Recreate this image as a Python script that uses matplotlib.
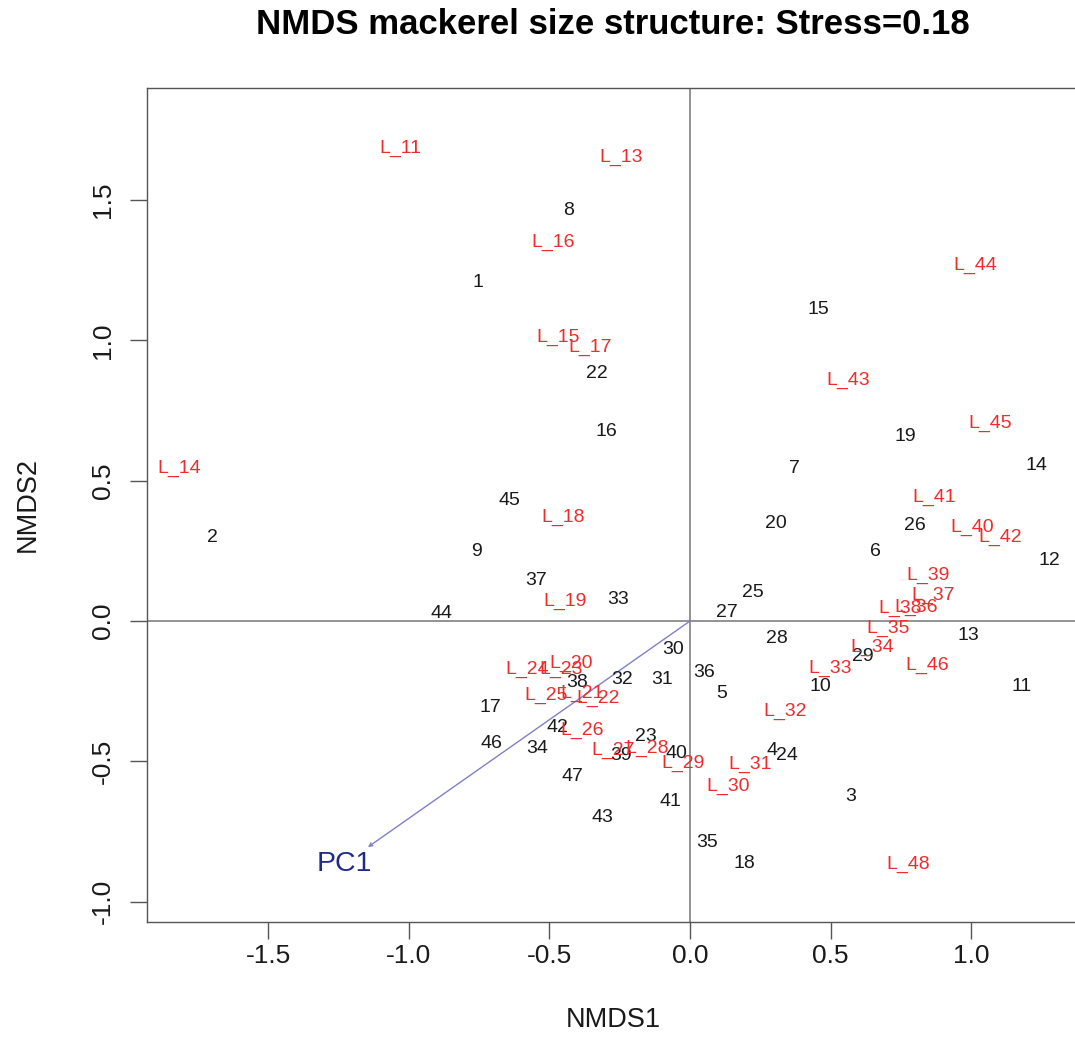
import matplotlib
matplotlib.use("Agg")
from matplotlib import pyplot as plt

# site scores (black numbers)
site_labels = ["1", "2", "3", "4", "5", "6", "7", "8", "9", "10",
               "11", "12", "13", "14", "15", "16", "17", "18", "19", "20",
               "22", "23", "24", "25", "26", "27", "28", "29", "30", "31",
               "32", "33", "34", "35", "36", "37", "38", "39", "40", "41",
               "42", "43", "44", "45", "46", "47"]
site_x = [-0.754, -1.698, 0.573, 0.292, 0.114, 0.658, 0.370, -0.431, -0.758, 0.463,
          1.181, 1.278, 0.989, 1.231, 0.456, -0.299, -0.712, 0.192, 0.765, 0.306,
          -0.331, -0.157, 0.345, 0.224, 0.801, 0.132, 0.310, 0.616, -0.060, -0.100,
          -0.242, -0.256, -0.544, 0.060, 0.050, -0.548, -0.402, -0.246, -0.050, -0.068,
          -0.470, -0.310, -0.883, -0.641, -0.705, -0.420]
site_y = [1.205, 0.296, -0.624, -0.460, -0.257, 0.246, 0.542, 1.465, 0.246, -0.235,
          -0.232, 0.214, -0.050, 0.553, 1.109, 0.674, -0.307, -0.866, 0.656, 0.349,
          0.884, -0.410, -0.478, 0.103, 0.342, 0.032, -0.061, -0.128, -0.103, -0.210,
          -0.210, 0.075, -0.453, -0.791, -0.185, 0.143, -0.221, -0.478, -0.471, -0.642,
          -0.378, -0.699, 0.025, 0.431, -0.435, -0.553]

# length class scores (red labels)
len_labels = ["L_11", "L_13", "L_14", "L_15", "L_16", "L_17", "L_18", "L_19", "L_20", "L_21",
              "L_22", "L_23", "L_24", "L_25", "L_26", "L_27", "L_28", "L_29", "L_30", "L_31",
              "L_32", "L_33", "L_34", "L_35", "L_36", "L_37", "L_38", "L_39", "L_40", "L_41",
              "L_42", "L_43", "L_44", "L_45", "L_46", "L_48"]
len_x = [-1.032, -0.246, -1.819, -0.470, -0.488, -0.356, -0.452, -0.445, -0.423, -0.384,
         -0.327, -0.459, -0.580, -0.512, -0.384, -0.274, -0.153, -0.025, 0.135, 0.214,
         0.338, 0.498, 0.648, 0.705, 0.804, 0.865, 0.747, 0.847, 1.004, 0.868,
         1.103, 0.562, 1.014, 1.068, 0.843, 0.776]
len_y = [1.686, 1.654, 0.545, 1.012, 1.351, 0.977, 0.371, 0.071, -0.150, -0.257,
         -0.275, -0.171, -0.171, -0.264, -0.389, -0.460, -0.453, -0.506, -0.588, -0.513,
         -0.324, -0.168, -0.093, -0.025, 0.050, 0.093, 0.046, 0.164, 0.332, 0.442,
         0.299, 0.856, 1.269, 0.706, -0.160, -0.866]

# fitted environmental vector
pc1_xy = (-1.146, -0.806)
pc1_label_xy = (-1.231, -0.866)

x_ticks = [-1.5, -1.0, -0.5, 0.0, 0.5, 1.0]
y_ticks = [-1.0, -0.5, 0.0, 0.5, 1.0, 1.5]

plt.rcParams["font.family"] = ["Liberation Sans", "DejaVu Sans"]

W, H = 1075, 1061
fig = plt.figure(figsize=(W / 100, H / 100), dpi=100)
left, right, top, bottom = 147, 1079, 88, 922
ax = fig.add_axes([left / W, 1 - bottom / H, (right - left) / W, (bottom - top) / H])

ax.set_xlim(-1.932, 1.384)
ax.set_ylim(-1.073, 1.900)

box_col = "#555555"
for side in ax.spines.values():
    side.set_color(box_col)
    side.set_linewidth(1.0)

ax.axhline(0, color="#808080", lw=1.2, zorder=1)
ax.axvline(0, color="#808080", lw=1.2, zorder=1)

ax.annotate("", xy=pc1_xy, xytext=(0, 0),
            arrowprops=dict(arrowstyle="->", color="#8080c8", lw=1.0,
                            mutation_scale=6, shrinkA=0, shrinkB=0))
ax.text(*pc1_label_xy, "PC1", color="#1f2a8a", fontsize=20.5,
        ha="center", va="center")

for lab, x, y in zip(site_labels, site_x, site_y):
    ax.text(x, y, lab, color="#1a1a1a", fontsize=14, ha="center", va="center")

for lab, x, y in zip(len_labels, len_x, len_y):
    ax.text(x, y, lab, color="#ee2c2c", fontsize=14, ha="center", va="center")

ax.set_xticks(x_ticks)
ax.set_yticks(y_ticks)
ax.set_xticklabels([f"{v:.1f}" for v in x_ticks])
ax.set_yticklabels([f"{v:.1f}" for v in y_ticks], rotation=90, va="center")
ax.tick_params(direction="out", length=12, width=1.0, color=box_col,
               labelsize=19, labelcolor="#1a1a1a")
ax.tick_params(axis="x", pad=4)
ax.tick_params(axis="y", pad=11)

ax.set_xlabel("NMDS1", fontsize=19.5, color="#1a1a1a")
ax.set_ylabel("NMDS2", fontsize=19.5, color="#1a1a1a")
ax.xaxis.set_label_coords(0.5, (bottom - 1020) / (bottom - top))
ax.xaxis.label.set_va("center")
ax.yaxis.set_label_coords((28 - left) / (right - left), 0.5)
ax.yaxis.label.set_va("center")

fig.text(613 / W, 1 - 24 / H, "NMDS mackerel size structure: Stress=0.18",
         fontsize=25, fontweight="bold", ha="center", va="center")

fig.savefig("out.png", dpi=100, facecolor="white")
